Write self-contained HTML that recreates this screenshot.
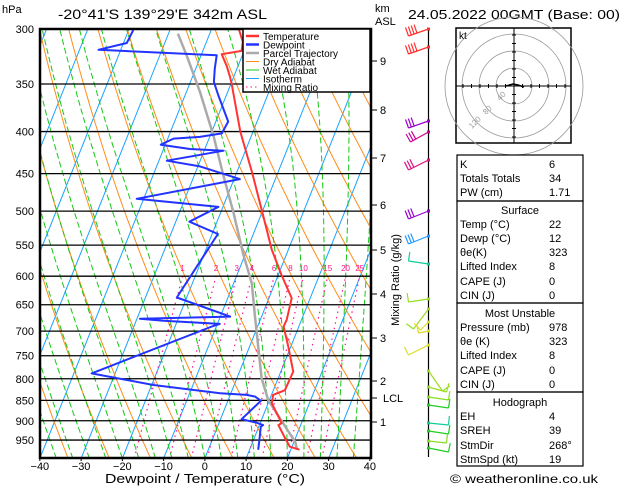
<!DOCTYPE html>
<html><head><meta charset="utf-8">
<style>
html,body{margin:0;padding:0;background:#fff;}
svg{display:block;font-family:"Liberation Sans",sans-serif;}
</style></head>
<body>
<svg id="chart" width="629" height="486" viewBox="0 0 629 486" xmlns="http://www.w3.org/2000/svg">
<defs><clipPath id="plotclip"><rect x="40" y="29" width="331" height="429"/></clipPath></defs>
<rect width="629" height="486" fill="#fff"/>
<g id="bg" clip-path="url(#plotclip)"></g>
<g id="series" clip-path="url(#plotclip)"></g>
<g id="axes"></g>
<text x="58" y="19" font-size="14" textLength="209" lengthAdjust="spacingAndGlyphs">-20°41'S 139°29'E 342m ASL</text>
<text x="2" y="13" font-size="11">hPa</text>
<text x="375" y="12" font-size="11">km</text>
<text x="375" y="25" font-size="11">ASL</text>
<text x="408" y="19" font-size="13" textLength="212" lengthAdjust="spacingAndGlyphs">24.05.2022 00GMT (Base: 00)</text>
<text x="205" y="483" font-size="13" text-anchor="middle" textLength="200" lengthAdjust="spacingAndGlyphs">Dewpoint / Temperature (°C)</text>
<text transform="translate(399,280) rotate(-90)" font-size="11" text-anchor="middle">Mixing Ratio (g/kg)</text>
<g id="legend"></g>
<g id="barbs"></g>
<g id="hodo"></g>
<g id="table"></g>
<text x="450" y="483" font-size="12" textLength="148" lengthAdjust="spacingAndGlyphs">© weatheronline.co.uk</text>
</svg>
<script>
// ---- data ----
const pressureLevels=[300,350,400,450,500,550,600,650,700,750,800,850,900,950];
const tempTicks=[-40,-30,-20,-10,0,10,20,30,40];
const tempP=[976,968,945,911,906,857,837,826,784,731,691,678,638,598,557,501,450,400,350,343,333,322,319,311,300];
const tempT=[22.1,19.5,17.5,14.6,15.2,10.9,10.4,12.8,13.0,9.4,6.3,6.4,5.5,0.8,-4.0,-10,-16.1,-23.1,-29.8,-30.9,-32.7,-35.1,-30.6,-31.2,-33.4];
const dewP=[976,952,915,911,905,896,851,841,837,833,814,788,690,686,680,676,672,637,569,533,515,494,487,483,457,441,434,422,420,415,408,406,402,389,361,348,335,323,318,312,301];
const dewT=[12.1,11.5,10.5,10.9,9.1,5.1,8.0,6.2,4.0,-2.6,-19.6,-35.7,-10.8,-9.4,-23.4,-29.3,-7.6,-22.4,-20.0,-18.6,-26.7,-21.1,-34.1,-41.7,-18.6,-29.5,-38.1,-25.3,-33.6,-41.1,-38.6,-32.4,-27.4,-27.0,-32.0,-34.3,-35.4,-36.2,-65.4,-59.2,-58.9];
const parcelP=[976,956,849,799,672,612,565,501,452,404,358,323,304];
const parcelT=[21.5,20.4,9.7,6.0,-1.6,-5.6,-10.4,-17.0,-23.0,-29.3,-36.7,-43.5,-47.7];
const mixRatios=[1,2,3,4,6,8,10,15,20,25];
const mixLabels=["1","2","3","4","6","8","10","15","20","25"];
const kmLabels=["1","2","3","4","5","6","7","8","9"];
const kmY=[422,381,338,294,250,205,158,110,61];
const barbY=[29,47,121,132,160,211,236,264,299,309,322,331,345,371,387,397,405,423,431,441,448];
const barbDx=[-20,-20,-20,-18,-20,-20,-20,-20,-20,-15,-8,-10,-20,14,18,20,20,20,20,18,20];
const barbDy=[7,7,7,10,10,8,8,-3,3,20,8,2,10,20,5,3,3,2,3,2,4];
const barbColor=["#ff3030","#ff3030","#9900cc","#cc0099","#e0107f","#9900cc","#2299ff","#11cc99","#99dd22","#99dd22","#dddd22","#dddd22","#dddd22","#99dd22","#99dd22","#88dd22","#22cc22","#11cc99","#22cc22","#88dd22","#22cc22"];

// ---- axes functions ----
const NS="http://www.w3.org/2000/svg";
function Y(p){return 29+356.6*Math.log(p/300);}
function X(T,p){return 40+(T+40)*4.125+0.4*(458-Y(p));}
function mk(tag,attrs,parent){const e=document.createElementNS(NS,tag);for(const k in attrs)e.setAttribute(k,attrs[k]);parent.appendChild(e);return e;}
function poly(pts){return pts.map(q=>q[0].toFixed(1)+","+q[1].toFixed(1)).join(" ");}
const bg=document.getElementById('bg'),series=document.getElementById('series'),axes=document.getElementById('axes');

// isotherms
for(let T=-130;T<=40;T+=10){
  const l=mk('line',{x1:X(T,1000),y1:Y(1000),x2:X(T,300),y2:Y(300),stroke:'#1aa3ff','stroke-width':1},bg);
  
  
}
// dry adiabats
for(let th=220;th<=500;th+=10){
  const pts=[];
  for(let p=1000;p>=300;p-=10){pts.push([X(th*Math.pow(p/1000,0.2857)-273.15,p),Y(p)]);}
  const l=mk('polyline',{points:poly(pts),fill:'none',stroke:'#ff8c1a','stroke-width':1},bg);
  
  
}
// wet adiabats
function es(tc){return 6.112*Math.exp(17.67*tc/(tc+243.5));}
for(let T0=-40;T0<=40;T0+=4){
  let T=T0+273.15;const pts=[];
  for(let p=1000;p>=300;p-=5){
    pts.push([X(T-273.15,p),Y(p)]);
    const e=es(T-273.15),rs=0.622*e/(p-e);
    const dTdp=(287*T+2.5e6*rs)/(p*(1004+2.5e6*2.5e6*rs*0.622/(287*T*T)));
    T-=dTdp*5;
  }
  const l=mk('polyline',{points:poly(pts),fill:'none',stroke:'#14c814','stroke-width':1,'stroke-dasharray':'6,3'},bg);
  
  
}
// mixing ratio
mixRatios.forEach((w,i)=>{
  const pts=[];
  for(let p=1000;p>=600;p-=10){const e=w*p/(622+w),a=Math.log(e/6.112);pts.push([X(243.5*a/(17.67-a),p),Y(p)]);}
  const l=mk('polyline',{points:poly(pts),fill:'none',stroke:'#ff1493','stroke-width':1.2,'stroke-dasharray':'1.5,4'},bg);
  
  
  const t=mk('text',{x:pts[pts.length-1][0],y:Y(600)-5,'font-size':8,fill:'#ff1493','text-anchor':'middle'},axes);
  
  
  t.textContent=mixLabels[i];
});
// pressure lines
pressureLevels.forEach(p=>{
  const l=mk('line',{x1:40,x2:371,y1:Y(p),y2:Y(p),stroke:'#000','stroke-width':1.3},bg);
  
  
  const t=mk('text',{x:34,y:Y(p)+4,'font-size':11,'text-anchor':'end'},axes);
  
  
  t.textContent=p;
});
// temp ticks
tempTicks.forEach(T=>{
  const x=X(T,1000);
  const t=mk('text',{x:x,y:470,'font-size':11,'text-anchor':'middle'},axes);
  
  
  t.textContent=(T<0?'\u2212'+(-T):T);
  mk('line',{x1:x,x2:x,y1:458,y2:461,stroke:'#000'},axes);
});
// km ticks
kmLabels.forEach((k,i)=>{
  mk('line',{x1:371,x2:377,y1:kmY[i],y2:kmY[i],stroke:'#000'},axes);
  const t=mk('text',{x:380,y:kmY[i]+4,'font-size':11},axes);
  
  
  t.textContent=k;
});
mk('line',{x1:371,x2:377,y1:398,y2:398,stroke:'#000'},axes);
const lcl=mk('text',{x:383,y:402,'font-size':11},axes);


lcl.textContent='LCL';
// series
function line(P,T,color,w,name){
  const pts=P.map((p,i)=>[X(T[i],p),Y(p)]);
  const l=mk('polyline',{points:poly(pts),fill:'none',stroke:color,'stroke-width':w,'stroke-linejoin':'round'},series);
  
  
}
line(parcelP,parcelT,'#aaaaaa',2.5,'parcel-trajectory-line');
line(tempP,tempT,'#ff3333',2,'temperature-line');
line(dewP,dewT,'#2233ff',2,'dewpoint-line');
// frame
const fr=mk('rect',{x:40,y:29,width:331,height:429,fill:'none',stroke:'#000','stroke-width':2.5},axes);


// legend
const lg=document.getElementById('legend');
mk('rect',{x:243,y:29,width:127,height:63,fill:'#fff',stroke:'#000','stroke-width':1.5},lg);
const legNames=["Temperature","Dewpoint","Parcel Trajectory","Dry Adiabat","Wet Adiabat","Isotherm","Mixing Ratio"];
const legCol=["#ff3333","#2233ff","#aaaaaa","#ff8c1a","#14c814","#1aa3ff","#ff1493"];
legNames.forEach((n,i)=>{
  const y=36+i*8.5;
  const l=mk('line',{x1:246,x2:259,y1:y,y2:y,stroke:legCol[i],'stroke-width':i<3?2.5:1,'stroke-dasharray':i==6?'1.5,3':'none'},lg);
  
  
  const t=mk('text',{x:263,y:y+4,'font-size':10},lg);
  
  
  t.textContent=n;
});
// barbs
const bb=document.getElementById('barbs');
mk('line',{x1:428.5,x2:428.5,y1:28,y2:457,stroke:'#000','stroke-width':1.2},bb);
barbY.forEach((y,i)=>{
  const c=barbColor[i],ex=428.5+barbDx[i],ey=y+barbDy[i];
  const s=mk('line',{x1:428.5,y1:y,x2:ex,y2:ey,stroke:c,'stroke-width':1.2},bb);
  
  
  mk('rect',{x:427,y:y-1.5,width:3,height:3,fill:c},bb);
  const len=Math.hypot(barbDx[i],barbDy[i]),ux=barbDx[i]/len,uy=barbDy[i]/len;
  const nf=i<2?4:(i<7?3:1);
  for(let f=0;f<nf;f++){
    const bx=ex-ux*f*3,by=ey-uy*f*3;
    mk('line',{x1:bx,y1:by,x2:bx-uy*9*(barbDx[i]<0?1:-1),y2:by+ux*9*(barbDx[i]<0?1:-1),stroke:c,'stroke-width':1.2},bb);
  }
});
// hodograph
const hd=document.getElementById('hodo');
mk('rect',{x:456,y:28,width:115,height:115,fill:'#fff',stroke:'#000','stroke-width':1.5},hd);
[18,35,52,69].forEach(r=>{
  const c=mk('circle',{cx:514,cy:86,r:r,fill:'none',stroke:'#999','stroke-width':0.8},hd);
  
  
});
mk('line',{x1:456,x2:571,y1:86,y2:86,stroke:'#000'},hd);
mk('line',{x1:514,x2:514,y1:28,y2:143,stroke:'#000'},hd);
for(let k=-6;k<=6;k++){if(k){mk('line',{x1:514+k*8.5,x2:514+k*8.5,y1:84,y2:88,stroke:'#000'},hd);mk('line',{x1:512,x2:516,y1:86+k*8.5,y2:86+k*8.5,stroke:'#000'},hd);}}
mk('polyline',{points:"506,86 513,84 518,85 524,87",fill:'none',stroke:'#000','stroke-width':1.5},hd);
const kt=mk('text',{x:459,y:39,'font-size':10},hd);kt.textContent='kt';
[['40',500,101],['80',486,115],['120',472,129]].forEach(a=>{const t=mk('text',{x:a[1],y:a[2],'font-size':8,fill:'#999',transform:`rotate(-45 ${a[1]} ${a[2]})`},hd);t.textContent=a[0];});
// table
const tb=document.getElementById('table');
const boxes=[[155,201],[201,303],[303,392],[392,466]];
boxes.forEach(b=>mk('rect',{x:457,y:b[0],width:126,height:b[1]-b[0],fill:'none',stroke:'#000','stroke-width':1.2},tb));
const rows=[["K","6",164],["Totals Totals","34",178],["PW (cm)","1.71",192],
["Surface","",210,1],["Temp (°C)","22",224],["Dewp (°C)","12",238],["θe(K)","323",252],["Lifted Index","8",266],["CAPE (J)","0",281],["CIN (J)","0",295],
["Most Unstable","",313,1],["Pressure (mb)","978",327],["θe (K)","323",341],["Lifted Index","8",355],["CAPE (J)","0",370],["CIN (J)","0",384],
["Hodograph","",402,1],["EH","4",416],["SREH","39",430],["StmDir","268°",445],["StmSpd (kt)","19",459]];
rows.forEach(r=>{
  const t=mk('text',{x:r[3]?520:460,y:r[2]+4,'font-size':11,'text-anchor':r[3]?'middle':'start'},tb);
  
  
  t.textContent=r[0];
  if(r[1]){const v=mk('text',{x:549,y:r[2]+4,'font-size':11},tb);
  
  
  v.textContent=r[1];}
});
</script>
</body></html>
